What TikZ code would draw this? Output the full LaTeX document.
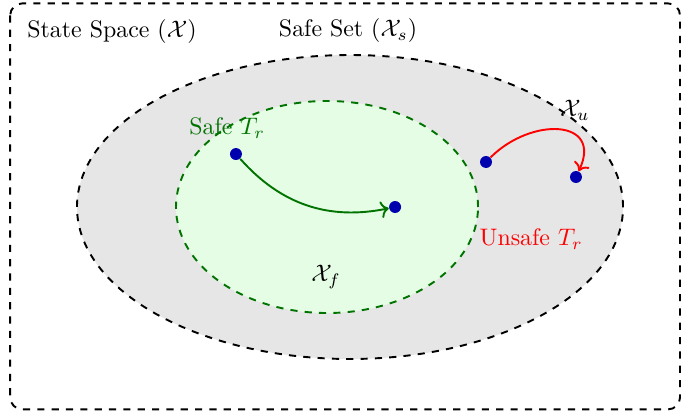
\documentclass[tikz,border=0pt]{standalone}
\usepackage{xcolor}
\usepackage{tikz}
\usetikzlibrary{shapes.geometric, arrows.meta, positioning, calc}
\definecolor{SSGray}{RGB}{230, 230, 230}
\definecolor{SSGreenFill}{RGB}{229, 253, 229}
\definecolor{SSGreen}{RGB}{0, 115, 0}
\definecolor{SSRed}{RGB}{255, 0, 0}
\definecolor{SSDot}{RGB}{0, 0, 175}
\tikzset{
  statedot/.style={circle, fill=SSDot, inner sep=0pt, minimum size=5pt},
  setlabel/.style={inner sep=1pt, font=\normalsize}
}

\begin{document}
\begin{tikzpicture}
    \useasboundingbox (0,0) rectangle (10.044,-6.059);
    % state space border
    \draw[dashed, thick, rounded corners=5pt] (0.15,-0.05) rectangle (10.0,-6.02);
    % safe set and its forward invariant subset
    \draw[dashed, thick, fill=SSGray] (5.147,-3.044) ellipse [x radius=4.015, y radius=2.235];
    \draw[dashed, thick, draw=SSGreen, fill=SSGreenFill] (4.809,-3.044) ellipse [x radius=2.221, y radius=1.559];

    \node[setlabel] (space) at (1.647,-0.47) {State Space ($\mathcal{X}$)};
    \node[setlabel] (safeset) at (5.118,-0.456) {Safe Set ($\mathcal{X}_s$)};
    \node[setlabel] (xu) at (8.455,-1.62) {$\mathcal{X}_u$};
    \node[setlabel] (xf) at (4.794,-4.07) {$\mathcal{X}_f$};

    % trajectories
    \node[statedot] (s1) at (3.47,-2.265) {};
    \node[statedot] (s2) at (5.81,-3.044) {};
    \node[statedot] (u1) at (7.147,-2.382) {};
    \node[statedot] (u2) at (8.47,-2.603) {};
    \node[setlabel, text=SSGreen] (safetr) at (3.34,-1.88) {Safe $T_r$};
    \node[setlabel, text=SSRed] (unsafetr) at (7.81,-3.515) {Unsafe $T_r$};

    \draw[->, thick, SSGreen] (s1) to[bend right=30] (s2);
    \draw[->, thick, SSRed] (u1) to[out=45, in=65, looseness=1.65] (u2);
  \end{tikzpicture}
\end{document}
